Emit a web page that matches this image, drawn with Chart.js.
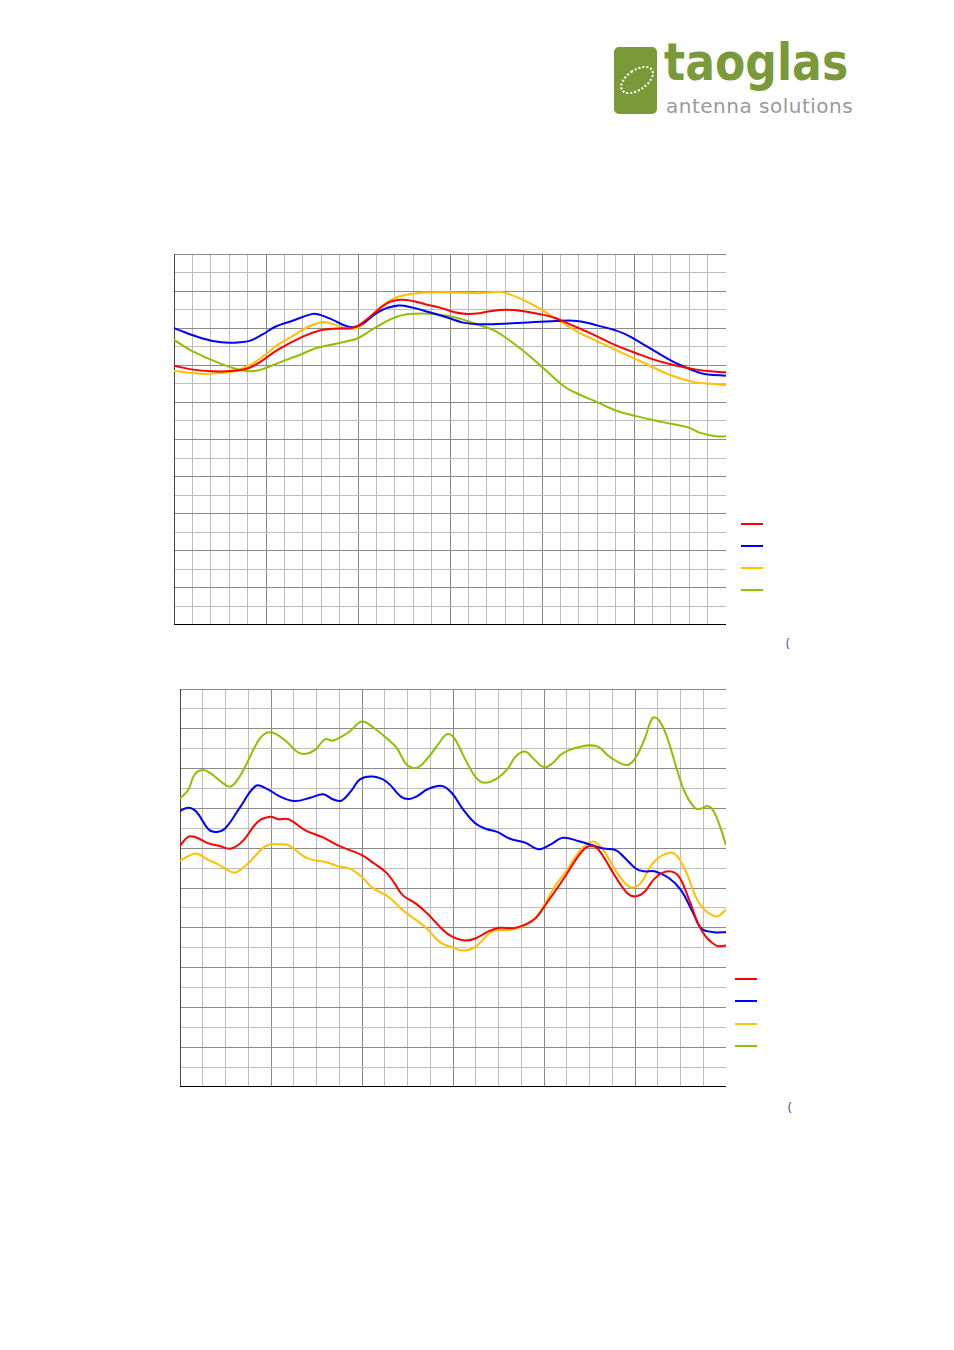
<!DOCTYPE html>
<html>
<head>
<meta charset="utf-8">
<script src="https://cdn.jsdelivr.net/npm/chart.js@4"></script>
<style>
  body { margin: 0; background: #fff; width: 954px; height: 1350px; position: relative; font-family: "Open Sans", sans-serif; }
  .box { position: absolute; }
  .leg { position: absolute; height: 2px; }
  .paren { position: absolute; color: #3a3aa0; font-size: 12px; }
  #logo-mark { position: absolute; left: 614px; top: 47px; width: 43px; height: 67px; background: #7a9a3a; border-radius: 5px; }
  #logo-mark span { position: absolute; left: 4px; top: 22px; width: 34px; height: 18px; border: 2px dotted #fff; border-radius: 50%; transform: rotate(-35deg); }
  #logo-word { position: absolute; left: 664px; top: 32px; font: bold 52px "DejaVu Sans", sans-serif; color: #7a9a3a; transform: scaleX(0.85); transform-origin: left top; }
  #logo-sub { position: absolute; left: 666px; top: 94px; font: 20px "DejaVu Sans", sans-serif; color: #999; letter-spacing: 0.5px; }
</style>
</head>
<body>
<div id="logo-mark"><span></span></div>
<div id="logo-word">taoglas</div>
<div id="logo-sub">antenna solutions</div>

<div class="box" style="left:174px;top:254px;width:552px;height:371px"><canvas id="c1"></canvas></div>
<div class="box" style="left:180px;top:689px;width:546px;height:398px"><canvas id="c2"></canvas></div>
<div class="paren" style="left:786px;top:634px">(</div>
<div class="paren" style="left:788px;top:1098px">(</div>

<script>
const colors = ["#ff0000", "#0000ff", "#ffc000", "#8fc000"]

// chart 1 (x: 0..30 grid units, y: 0..20 grid units)
const top_red = [[0,13.98],[.94,13.78],[2.09,13.68],[3.23,13.7],[4.03,13.84],[4.71,14.2],[5.63,14.83],[7,15.55],[7.92,15.88],[8.61,15.97],[9.53,16],[9.99,16.13],[10.67,16.63],[11.59,17.35],[12.28,17.53],[12.97,17.47],[13.66,17.29],[14.46,17.11],[15.26,16.86],[15.94,16.77],[16.63,16.81],[17.09,16.9],[18.01,16.99],[18.92,16.93],[19.84,16.77],[20.76,16.54],[21.68,16.14],[22.82,15.64],[23.97,15.1],[25.12,14.65],[26.26,14.25],[27.41,13.96],[28.33,13.78],[29.01,13.69],[30,13.62]]
const top_blue = [[0,16],[1.51,15.46],[2.57,15.24],[3.58,15.24],[4.15,15.33],[4.84,15.68],[5.53,16.09],[6.33,16.36],[7.48,16.76],[7.94,16.72],[8.63,16.45],[9.32,16.13],[9.77,16.05],[10.23,16.23],[11.15,16.9],[12.18,17.22],[12.97,17.11],[13.89,16.86],[14.81,16.59],[15.72,16.3],[16.64,16.21],[17.55,16.23],[18.93,16.3],[20.76,16.39],[21.91,16.39],[23.05,16.14],[24.43,15.72],[25.58,15.09],[26.96,14.28],[27.64,13.96],[28.56,13.6],[29.01,13.51],[30,13.44]]
const top_yellow = [[0,13.69],[1.51,13.54],[2.66,13.6],[3.35,13.71],[4.15,14.02],[4.95,14.56],[5.63,15.1],[6.55,15.64],[7.24,16.05],[8.04,16.32],[8.5,16.27],[9.3,16],[9.75,15.97],[10.21,16.13],[10.9,16.85],[11.82,17.54],[12.97,17.86],[13.89,17.93],[15.26,17.93],[16.63,17.89],[17.32,17.95],[17.9,17.93],[18.93,17.54],[19.84,17.08],[20.76,16.5],[21.91,15.82],[23.05,15.28],[24.2,14.74],[25.58,14.11],[26.96,13.48],[28.33,13.08],[29.01,13.02],[30,12.93]]
const top_green = [[0,15.37],[.94,14.79],[1.97,14.32],[3.23,13.84],[3.91,13.69],[4.49,13.71],[4.95,13.84],[5.86,14.2],[6.78,14.54],[7.7,14.92],[8.61,15.12],[9.3,15.27],[9.99,15.46],[10.9,16],[11.82,16.5],[12.74,16.76],[14.12,16.77],[15.26,16.59],[16.41,16.23],[17.32,15.91],[17.9,15.58],[18.93,14.82],[20.08,13.84],[21.23,12.84],[21.91,12.48],[23.05,11.99],[23.97,11.58],[25.12,11.26],[26.49,10.95],[27.98,10.64],[28.56,10.37],[29.47,10.17],[30,10.17]]

// chart 2 (x: 0..24 grid units, y: 0..20 grid units)
const bot_red = [[0,12.12],[.36,12.57],[.72,12.54],[1.26,12.24],[1.71,12.12],[2.25,11.98],[2.79,12.4],[3.42,13.33],[3.96,13.58],[4.32,13.46],[4.77,13.46],[5.49,12.91],[6.29,12.54],[6.92,12.15],[7.46,11.9],[8,11.65],[8.54,11.23],[9.08,10.76],[9.44,10.22],[9.8,9.63],[10.34,9.24],[10.88,8.71],[11.51,7.95],[11.96,7.56],[12.5,7.36],[12.95,7.45],[13.58,7.83],[14.03,8],[14.66,7.98],[15.2,8.17],[15.65,8.5],[16.1,9.21],[16.82,10.39],[17.54,11.65],[17.9,12.07],[18.26,12.07],[18.62,11.56],[19.15,10.55],[19.69,9.71],[20.05,9.58],[20.41,9.8],[20.86,10.47],[21.31,10.81],[21.76,10.76],[22.03,10.39],[22.39,9.38],[22.93,7.87],[23.56,7.11],[24,7.11]]
const bot_blue = [[0,13.87],[.36,14.03],[.72,13.83],[1.26,12.94],[1.62,12.82],[1.98,12.99],[2.61,14],[3.33,15.13],[3.78,15.01],[4.41,14.59],[5.04,14.37],[5.76,14.55],[6.29,14.71],[6.74,14.45],[7.1,14.39],[7.55,14.92],[7.91,15.46],[8.45,15.6],[9.08,15.34],[9.71,14.59],[10.07,14.47],[10.43,14.62],[10.88,14.96],[11.51,15.13],[11.96,14.76],[12.41,14],[12.95,13.28],[13.4,12.99],[13.94,12.82],[14.48,12.49],[15.2,12.27],[15.74,11.95],[16.28,12.18],[16.82,12.52],[17.54,12.35],[18.26,12.1],[18.62,11.98],[19.15,11.9],[19.51,11.56],[20.05,10.97],[20.41,10.84],[20.86,10.84],[21.49,10.5],[22.03,9.88],[22.57,8.71],[22.93,7.95],[23.47,7.78],[24,7.78]]
const bot_yellow = [[0,11.36],[.36,11.6],[.72,11.73],[1.26,11.4],[1.62,11.23],[2.25,10.81],[2.52,10.81],[3.06,11.31],[3.78,12.12],[4.41,12.2],[4.77,12.15],[5.49,11.56],[5.85,11.4],[6.38,11.31],[6.92,11.11],[7.46,10.97],[8,10.55],[8.45,10.02],[9.17,9.55],[9.89,8.79],[10.79,8.03],[11.42,7.28],[11.96,7.02],[12.41,6.86],[12.95,7.02],[13.76,7.83],[14.48,7.9],[15.2,8.15],[15.74,8.66],[16.46,10.05],[17,10.89],[17.54,11.82],[18.08,12.32],[18.44,12.15],[18.8,11.56],[19.24,10.72],[19.78,10.05],[20.23,10.22],[20.77,11.23],[21.31,11.7],[21.76,11.7],[22.21,10.89],[22.84,9.21],[23.56,8.57],[24,8.91]]
const bot_green = [[0,14.5],[.36,14.92],[.63,15.68],[.99,15.93],[1.35,15.76],[2.07,15.13],[2.34,15.18],[2.79,15.93],[3.42,17.36],[3.78,17.78],[4.14,17.78],[4.68,17.36],[5.13,16.86],[5.49,16.74],[5.94,16.94],[6.38,17.48],[6.74,17.41],[7.46,17.87],[8,18.37],[8.54,18.03],[9.08,17.53],[9.53,17.03],[9.98,16.18],[10.43,16.05],[10.88,16.52],[11.33,17.19],[11.69,17.7],[11.96,17.65],[12.23,17.19],[12.59,16.35],[13.04,15.51],[13.4,15.29],[13.94,15.51],[14.39,15.97],[14.75,16.6],[15.16,16.86],[15.56,16.47],[16.01,16.07],[16.37,16.27],[16.82,16.77],[17.63,17.11],[18.35,17.11],[18.88,16.6],[19.6,16.18],[19.96,16.44],[20.41,17.45],[20.77,18.54],[21.04,18.45],[21.4,17.61],[21.85,15.93],[22.21,14.76],[22.66,14],[22.93,14],[23.2,14.12],[23.47,13.83],[23.74,13.08],[24,12.15]]

const toXY = (arr) => arr.map(([x, y]) => ({ x, y }))

function makeChart(id, series, xMax, xMajor) {
  const axis = (max, major) => ({
    type: 'linear', min: 0, max: max,
    ticks: { display: false, stepSize: 1 },
    grid: {
      drawTicks: false,
      color: (c) => (c.tick.value % major === 0 ? '#8a8a8a' : '#bdbdbd'),
      lineWidth: 1
    },
    border: { display: true, color: '#000', width: 1.5 }
  })
  new Chart(document.getElementById(id), {
    type: 'line',
    data: {
      datasets: series.map((s, i) => ({
        data: toXY(s), borderColor: colors[i], borderWidth: 2,
        pointRadius: 0, tension: 0.4, fill: false
      }))
    },
    options: {
      responsive: true, maintainAspectRatio: false, animation: false,
      layout: { padding: 0 },
      plugins: { legend: { display: false }, tooltip: { enabled: false } },
      scales: { x: axis(xMax, xMajor), y: axis(20, 2) }
    }
  })
}

makeChart('c1', [top_red, top_blue, top_yellow, top_green], 30, 5)
makeChart('c2', [bot_red, bot_blue, bot_yellow, bot_green], 24, 4)

// legend swatches (no labels in the reference)
const legends = [[741, [524, 546, 568, 590]], [735, [979, 1001, 1024, 1046]]]
legends.forEach(([left, ys]) => ys.forEach((y, i) => {
  const d = document.createElement('div')
  d.className = 'leg'
  d.style.cssText = `left:${left}px;top:${y - 1}px;width:22px;background:${colors[i]}`
  document.body.appendChild(d)
}))
</script>
</body>
</html>
